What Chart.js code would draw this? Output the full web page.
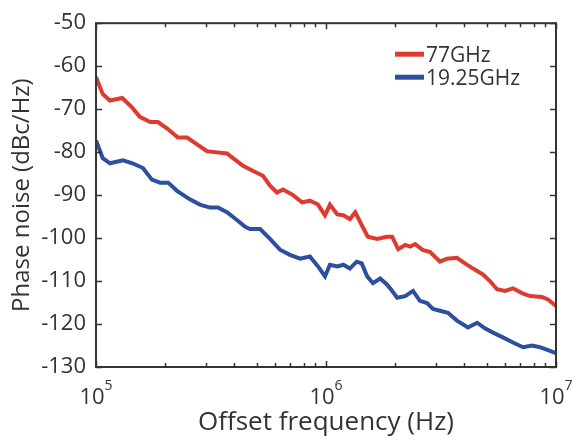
<!DOCTYPE html>
<html>
<head>
<meta charset="utf-8">
<script src="https://cdn.jsdelivr.net/npm/chart.js@4.4.1/dist/chart.umd.min.js"></script>
<style>
  html, body { margin: 0; padding: 0; background: #fff; }
  canvas { display: block; }
</style>
</head>
<body>
<canvas id="pnChart" width="574" height="436"></canvas>
<script>
// datos (Hz, dBc/Hz)
const freq77 = [1.00e5, 1.07e5, 1.15e5, 1.30e5, 1.43e5, 1.55e5, 1.72e5, 1.86e5, 2.04e5, 2.27e5,
  2.49e5, 2.75e5, 3.04e5, 3.29e5, 3.71e5, 3.94e5, 4.36e5, 4.82e5, 5.32e5, 5.71e5,
  6.12e5, 6.50e5, 7.19e5, 7.87e5, 8.51e5, 9.23e5, 9.90e5, 1.04e6, 1.12e6, 1.19e6,
  1.27e6, 1.34e6, 1.43e6, 1.52e6, 1.67e6, 1.84e6, 1.94e6, 2.06e6, 2.21e6, 2.32e6,
  2.44e6, 2.64e6, 2.83e6, 3.13e6, 3.36e6, 3.71e6, 4.02e6, 4.36e6, 4.82e6, 5.16e6,
  5.54e6, 6.00e6, 6.50e6, 7.11e6, 7.71e6, 8.69e6, 9.23e6, 1.00e7];
const pn77 = [-62.5, -66.5, -68.0, -67.4, -69.5, -71.8, -73.0, -73.0, -74.5, -76.6,
  -76.6, -78.2, -79.8, -80.0, -80.3, -81.4, -83.2, -84.4, -85.5, -87.8,
  -89.4, -88.7, -90.0, -91.7, -91.3, -92.2, -94.7, -92.2, -94.5, -94.7,
  -95.6, -94.0, -97.0, -99.7, -100.2, -99.7, -99.7, -102.6, -101.6, -102.0,
  -101.4, -102.8, -103.2, -105.5, -104.8, -104.6, -105.9, -107.1, -108.5, -110.0,
  -111.9, -112.3, -111.7, -112.8, -113.5, -113.7, -114.3, -115.8];

const freq1925 = [1.00e5, 1.07e5, 1.15e5, 1.31e5, 1.44e5, 1.60e5, 1.75e5, 1.90e5, 2.06e5, 2.25e5,
  2.56e5, 2.83e5, 3.13e5, 3.39e5, 3.71e5, 4.10e5, 4.45e5, 4.67e5, 5.17e5, 5.71e5,
  6.31e5, 6.97e5, 7.71e5, 8.51e5, 9.23e5, 9.90e5, 1.04e6, 1.12e6, 1.19e6, 1.27e6,
  1.36e6, 1.43e6, 1.51e6, 1.60e6, 1.72e6, 1.84e6, 1.90e6, 2.04e6, 2.21e6, 2.39e6,
  2.56e6, 2.75e6, 2.92e6, 3.13e6, 3.39e6, 3.71e6, 4.14e6, 4.54e6, 4.91e6, 5.32e6,
  5.88e6, 6.50e6, 7.19e6, 7.87e6, 8.51e6, 9.23e6, 1.00e7];
const pn1925 = [-77.3, -81.4, -82.6, -81.9, -82.6, -83.7, -86.4, -87.1, -87.1, -89.0,
  -91.0, -92.2, -92.9, -92.9, -94.0, -95.8, -97.4, -97.9, -97.9, -100.2,
  -102.7, -103.9, -104.8, -104.3, -106.6, -108.9, -106.2, -106.6, -106.2, -107.1,
  -105.5, -105.9, -108.9, -110.5, -109.4, -110.8, -111.7, -113.9, -113.5, -112.3,
  -114.6, -115.1, -116.5, -116.9, -117.4, -119.2, -120.8, -119.7, -121.0, -122.0,
  -123.1, -124.3, -125.4, -125.0, -125.4, -126.1, -126.8];

const seriesLabels = ["77GHz", "19.25GHz"];
const seriesColors = ["#dd3a30", "#2c4f9e"];
const yTicks = [-130, -120, -110, -100, -90, -80, -70, -60, -50];
const xDecades = [5, 6, 7];

const FONT = "'Open Sans', 'Noto Sans', sans-serif";
const INK = "#333333";

function toPoints(xs, ys) {
  return xs.map((x, i) => ({ x, y: ys[i] }));
}

// marco, ticks hacia adentro, etiquetas 10^n y leyenda
const framePlugin = {
  id: "frame",
  afterDatasetsDraw(chart) {
    const ctx = chart.ctx;
    const { left, right, top, bottom } = chart.chartArea;
    const xs = chart.scales.x;
    const ys = chart.scales.y;
    ctx.save();
    ctx.strokeStyle = INK;
    ctx.lineWidth = 2;
    ctx.strokeRect(left, top, right - left, bottom - top);

    ctx.lineWidth = 1.5;
    ctx.beginPath();
    // ticks x (mayores y menores, log)
    for (let e = xDecades[0]; e <= xDecades[xDecades.length - 1]; e++) {
      for (let k = 1; k <= 9; k++) {
        const v = k * Math.pow(10, e);
        if (v < xs.min || v > xs.max) continue;
        const px = Math.round(xs.getPixelForValue(v)) + 0.5;
        const len = k === 1 ? 6 : 4;
        ctx.moveTo(px, bottom); ctx.lineTo(px, bottom - len);
        ctx.moveTo(px, top); ctx.lineTo(px, top + len);
      }
    }
    // ticks y
    yTicks.forEach(v => {
      const py = Math.round(ys.getPixelForValue(v)) + 0.5;
      ctx.moveTo(left, py); ctx.lineTo(left + 6, py);
      ctx.moveTo(right, py); ctx.lineTo(right - 6, py);
    });
    ctx.stroke();

    // etiquetas 10^n
    ctx.fillStyle = INK;
    ctx.textBaseline = "alphabetic";
    ctx.textAlign = "left";
    xDecades.forEach(e => {
      const px = xs.getPixelForValue(Math.pow(10, e));
      ctx.font = "22px " + FONT;
      const wBase = ctx.measureText("10").width;
      ctx.font = "14px " + FONT;
      const wExp = ctx.measureText(String(e)).width;
      const x0 = px - (wBase + wExp) / 2;
      ctx.font = "22px " + FONT;
      ctx.fillText("10", x0, bottom + 37);
      ctx.font = "14px " + FONT;
      ctx.fillText(String(e), x0 + wBase, bottom + 23);
    });

    // leyenda
    ctx.font = "21px " + FONT;
    chart.data.datasets.forEach((ds, i) => {
      const ly = top + 31 + i * 23;
      ctx.strokeStyle = ds.borderColor;
      ctx.lineWidth = 5;
      ctx.beginPath();
      ctx.moveTo(right - 161, ly);
      ctx.lineTo(right - 132, ly);
      ctx.stroke();
      ctx.fillStyle = INK;
      ctx.fillText(ds.label, right - 130, ly + 8);
    });
    ctx.restore();
  }
};

new Chart(document.getElementById("pnChart"), {
  type: "line",
  data: {
    datasets: [
      {
        label: seriesLabels[0],
        data: toPoints(freq77, pn77),
        borderColor: seriesColors[0],
        borderWidth: 4,
        pointRadius: 0,
        tension: 0
      },
      {
        label: seriesLabels[1],
        data: toPoints(freq1925, pn1925),
        borderColor: seriesColors[1],
        borderWidth: 4,
        pointRadius: 0,
        tension: 0
      }
    ]
  },
  options: {
    responsive: false,
    animation: false,
    devicePixelRatio: 1,
    layout: { padding: { top: 18, right: 18, left: 0, bottom: 0 } },
    plugins: {
      legend: { display: false },
      tooltip: { enabled: false }
    },
    scales: {
      x: {
        type: "logarithmic",
        min: 1e5,
        max: 1e7,
        grid: { display: false, drawTicks: false },
        border: { display: false },
        ticks: { display: false },
        title: {
          display: true,
          text: "Offset frequency (Hz)",
          color: INK,
          font: { family: FONT, size: 26, lineHeight: 1 },
          padding: { top: 0, bottom: 0 }
        },
        afterFit: s => { s.height = 69; }
      },
      y: {
        min: -130,
        max: -50,
        grid: { display: false, drawTicks: false },
        border: { display: false },
        ticks: {
          stepSize: 10,
          padding: 10,
          color: INK,
          font: { family: FONT, size: 22 }
        },
        title: {
          display: true,
          text: "Phase noise (dBc/Hz)",
          color: INK,
          font: { family: FONT, size: 24, lineHeight: 1 },
          padding: { top: 10, bottom: 0 }
        },
        afterFit: s => { s.width = 96; }
      }
    }
  },
  plugins: [framePlugin]
});
</script>
</body>
</html>
